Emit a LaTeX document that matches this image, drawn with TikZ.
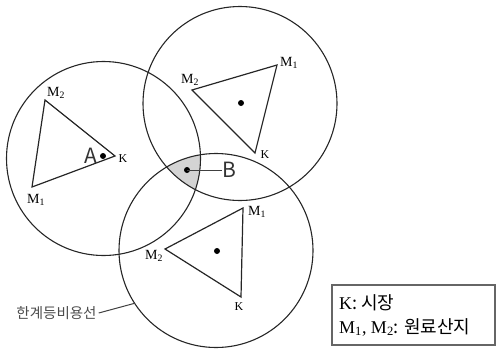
\documentclass[tikz,border=0pt]{standalone}
\usepackage{fontspec}
\setmainfont{Liberation Serif}
\newfontfamily\kr{Noto Sans CJK KR}
\begin{document}
\begin{tikzpicture}[x=1pt,y=-1pt,
  ring/.style={draw=black!85,line width=1.1pt},
  tri/.style={draw=black!85,line width=1.2pt,line join=miter},
  site/.style={circle,fill=black,inner sep=0pt,minimum size=6pt},
  vlab/.style={inner sep=0pt,font=\fontsize{14}{14}\selectfont},
  klab/.style={inner sep=0pt,font=\fontsize{12}{12}\selectfont},
  big/.style={inner sep=0pt,font=\kr\fontsize{21}{21}\selectfont,text=black!80},
  lead/.style={draw=black!75,line width=1pt},
  legtext/.style={inner sep=0pt,anchor=west,font=\fontsize{18}{18}\selectfont}]
\useasboundingbox (0,0) rectangle (496,349);
% circles
\coordinate (c1) at (103.5,158.5);
\coordinate (c2) at (240,103.5);
\coordinate (c3) at (216,250.5);
% shaded intersection
\begin{scope}
  \clip (c1) circle[radius=97pt];
  \clip (c2) circle[radius=97pt];
  \fill[black!17] (c3) circle[radius=97pt];
\end{scope}
\draw[ring] (c1) circle[radius=97pt];
\draw[ring] (c2) circle[radius=97pt];
\draw[ring] (c3) circle[radius=97pt];
% triangle A
\coordinate (a1) at (32,187);
\coordinate (a2) at (45,100);
\coordinate (ak) at (115,156);
\draw[tri] (a1) -- (a2) -- (ak) -- cycle;
\node[site] (da) at (103,156) {};
\node[big,anchor=east] (la) at (97,156) {A};
\node[vlab] (la2) at (56,93) {M\textsubscript{2}};
\node[vlab] (la1) at (36,200) {M\textsubscript{1}};
\node[klab] (lak) at (123,159) {K};
% triangle top
\coordinate (b2) at (192,90);
\coordinate (b1) at (277,65);
\coordinate (bk) at (255,153);
\draw[tri] (b2) -- (b1) -- (bk) -- cycle;
\node[site] (db) at (241,103) {};
\node[vlab] (lb2) at (190,80) {M\textsubscript{2}};
\node[vlab] (lb1) at (289,63) {M\textsubscript{1}};
\node[klab] (lbk) at (265,155) {K};
% triangle bottom
\coordinate (e1) at (243,208);
\coordinate (e2) at (165,249);
\coordinate (ek) at (241,297);
\draw[tri] (e1) -- (e2) -- (ek) -- cycle;
\node[site] (de) at (217,251) {};
\node[vlab] (le1) at (257,212) {M\textsubscript{1}};
\node[vlab] (le2) at (154,256) {M\textsubscript{2}};
\node[klab] (lek) at (239,307) {K};
% point B
\node[site] (dB) at (187,170) {};
\node[big,anchor=west] (lB) at (222,170) {B};
\draw[lead] (dB.center) -- (lB.west);
% label of the curve
\node[inner sep=0pt,font=\kr\fontsize{14.5}{14.5}\selectfont,text=black!70] (lc) at (56.5,313) {한계등비용선};
\coordinate (pc) at (134.6,303.3);
\draw[lead] ([xshift=2pt]lc.east) -- (pc);
% legend
\draw[draw=black!60,line width=1.6pt] (332,285) rectangle (495,345);
\node[legtext] (k1) at (339,303) {K{\kr: 시장}};
\node[legtext] (k2) at (339,327) {M\textsubscript{1}, M\textsubscript{2}{\kr: 원료산지}};
\end{tikzpicture}
\end{document}
